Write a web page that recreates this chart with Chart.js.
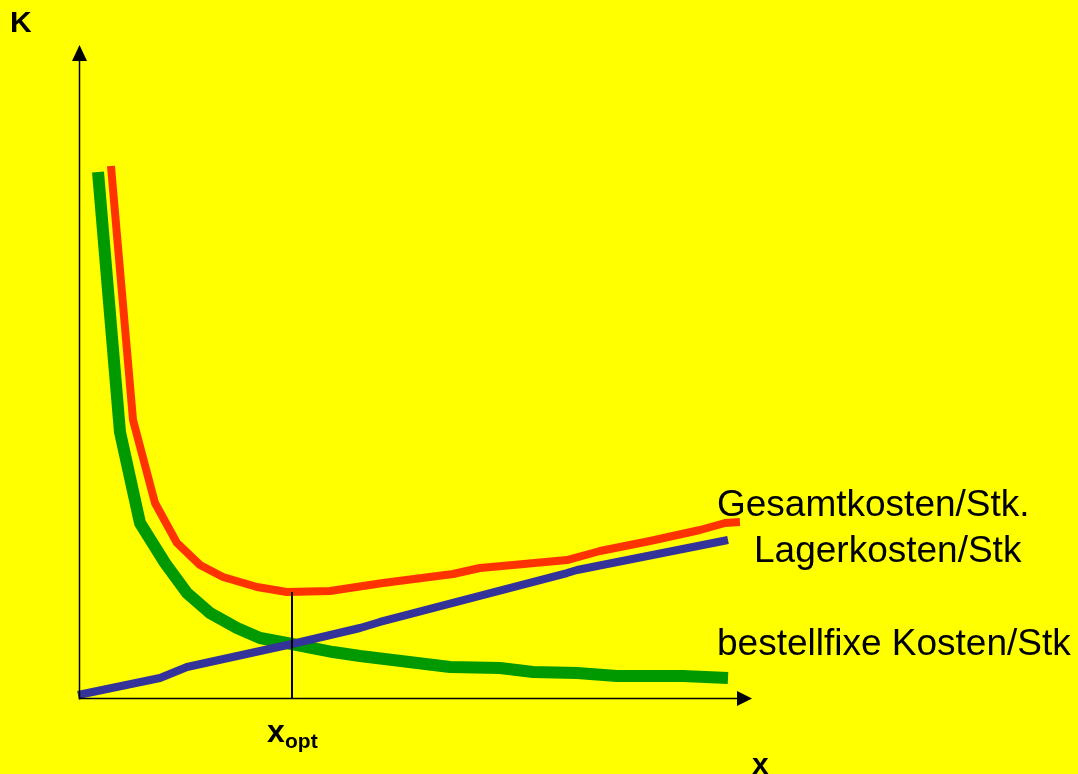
<!DOCTYPE html>
<html>
<head>
<meta charset="utf-8">
<script src="https://cdn.jsdelivr.net/npm/chart.js@4/dist/chart.umd.min.js"></script>
<style>
  html, body { margin: 0; padding: 0; background: #FFFF00; overflow: hidden; }
  canvas { display: block; }
</style>
</head>
<body>
<canvas id="c" width="1078" height="774"></canvas>
<script>
// Lagerkosten pro Stück (steigt linear mit der Bestellmenge)
const lagerX = [-0.3, 11.9, 15.92, 31.55, 41.67, 44.64, 72.47, 73.96, 96.43];
const lagerY = [0.46, 3.06, 4.75, 8.27, 10.72, 11.64, 19.14, 19.6, 24.2];

// bestellfixe Kosten pro Stück (fallen mit der Bestellmenge)
const fixX = [2.68, 5.95, 8.93, 12.65, 15.92, 19.35, 23.36, 26.79, 31.55, 37.65, 41.67, 55.06, 62.5, 67.41, 73.96, 79.91, 89.73, 96.43];
const fixY = [80.55, 40.74, 26.8, 20.67, 16.08, 13.02, 10.72, 9.19, 8.27, 7.04, 6.43, 4.75, 4.59, 3.98, 3.83, 3.37, 3.37, 3.06];

// Gesamtkosten pro Stück
const gesX = [4.61, 7.89, 11.16, 14.43, 17.86, 21.28, 26.34, 30.8, 37.2, 45.09, 55.51, 59.52, 64.43, 72.47, 77.38, 84.82, 92.26, 95.98, 98.21];
const gesY = [81.47, 42.57, 29.86, 23.74, 20.37, 18.53, 17.0, 16.23, 16.39, 17.61, 18.99, 19.91, 20.37, 21.13, 22.51, 24.04, 25.73, 26.8, 26.95];

// optimale Bestellmenge
const xOpt = 31.55;
const kOpt = 16.23;

const seriesNames = ['Lagerkosten/Stk', 'bestellfixe Kosten/Stk', 'Gesamtkosten/Stk.'];

const toPoints = (xs, ys) => xs.map((x, i) => ({ x: x, y: ys[i] }));

const FONT = '"Liberation Sans", Arial, Helvetica, sans-serif';

const decorations = {
  id: 'decorations',
  afterDatasetsDraw(chart) {
    const ctx = chart.ctx;
    const xs = chart.scales.x, ys = chart.scales.y;
    const x0 = xs.getPixelForValue(0) - 0.5;
    const y0 = ys.getPixelForValue(0) + 0.5;
    const yTop = ys.getPixelForValue(ys.max);
    const xEnd = xs.getPixelForValue(xs.max);
    ctx.save();
    ctx.strokeStyle = '#000';
    ctx.fillStyle = '#000';
    ctx.lineWidth = 1.5;
    // y axis with arrow
    ctx.beginPath();
    ctx.moveTo(x0, y0 + 1);
    ctx.lineTo(x0, yTop + 15);
    ctx.stroke();
    ctx.beginPath();
    ctx.moveTo(x0, yTop);
    ctx.lineTo(x0 - 7.5, yTop + 16);
    ctx.lineTo(x0 + 7.5, yTop + 16);
    ctx.closePath();
    ctx.fill();
    // x axis with arrow
    ctx.beginPath();
    ctx.moveTo(x0, y0);
    ctx.lineTo(xEnd - 14, y0);
    ctx.stroke();
    ctx.beginPath();
    ctx.moveTo(xEnd, y0);
    ctx.lineTo(xEnd - 15, y0 - 7.5);
    ctx.lineTo(xEnd - 15, y0 + 7.5);
    ctx.closePath();
    ctx.fill();
    // x_opt marker
    const xo = Math.round(xs.getPixelForValue(xOpt));
    ctx.lineWidth = 2;
    ctx.beginPath();
    ctx.moveTo(xo, ys.getPixelForValue(kOpt));
    ctx.lineTo(xo, y0);
    ctx.stroke();

    // axis labels
    ctx.textBaseline = 'alphabetic';
    ctx.textAlign = 'left';
    ctx.font = 'bold 30px ' + FONT;
    ctx.fillText('K', 10, 32);
    ctx.fillText('x', 752, 774);
    ctx.font = 'bold 32px ' + FONT;
    ctx.fillText('x', 267, 742);
    ctx.font = 'bold 21px ' + FONT;
    ctx.fillText('opt', 285, 748);

    // series labels
    ctx.font = '37px ' + FONT;
    ctx.fillText(seriesNames[2], 717, 516);
    ctx.fillText(seriesNames[0], 754, 562);
    ctx.fillText(seriesNames[1], 717, 655);
    ctx.restore();
  }
};

new Chart(document.getElementById('c'), {
  type: 'line',
  data: {
    datasets: [
      { label: seriesNames[0], data: toPoints(lagerX, lagerY), borderColor: '#333399', borderWidth: 8 },
      { label: seriesNames[1], data: toPoints(fixX, fixY), borderColor: '#009900', borderWidth: 12 },
      { label: seriesNames[2], data: toPoints(gesX, gesY), borderColor: '#FF3300', borderWidth: 8 }
    ].map(d => Object.assign(d, {
      pointRadius: 0, tension: 0, fill: false, clip: false,
      borderCapStyle: 'butt', borderJoinStyle: 'round'
    }))
  },
  options: {
    responsive: false,
    animation: false,
    events: [],
    layout: { padding: { left: 80, right: 326, top: 45, bottom: 76 } },
    plugins: { legend: { display: false }, tooltip: { enabled: false } },
    scales: {
      x: { type: 'linear', min: 0, max: 100, display: false },
      y: { type: 'linear', min: 0, max: 100, display: false }
    }
  },
  plugins: [decorations]
});
</script>
</body>
</html>
